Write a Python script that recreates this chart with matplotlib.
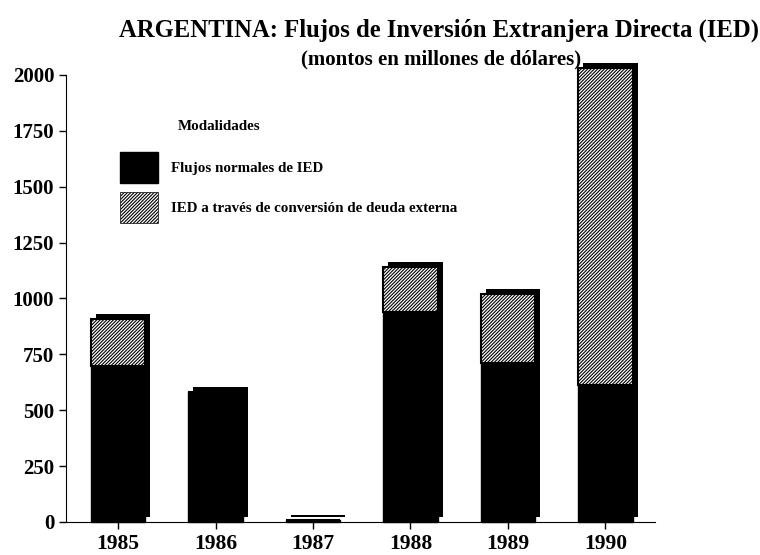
import numpy as np
import matplotlib
matplotlib.use('Agg')
import matplotlib.pyplot as plt
import matplotlib.patheffects as pe
from matplotlib.patches import Patch

# Data (millions of US dollars)
years = ['1985', '1986', '1987', '1988', '1989', '1990']
flujos_normales = [700, 580, 10, 940, 710, 615]
conversion_deuda = [210, 0, 0, 200, 310, 1415]
yticks = [0, 250, 500, 750, 1000, 1250, 1500, 1750, 2000]

plt.rcParams['font.family'] = ['Liberation Serif', 'DejaVu Serif']
plt.rcParams['font.weight'] = 'bold'
plt.rcParams['hatch.linewidth'] = 0.8

fig = plt.figure(figsize=(7.6, 5.55), dpi=100)
ax = fig.add_axes([0.087, 0.0595, 0.775, 0.8055])

x = np.arange(len(years))
width = 0.56
shadow = [pe.SimplePatchShadow(offset=(3.5, 3.5), shadow_rgbFace='black', alpha=1.0), pe.Normal()]

ax.bar(x, flujos_normales, width, color='black', edgecolor='black',
       linewidth=1.0, clip_on=False, path_effects=shadow)
ax.bar(x, conversion_deuda, width, bottom=flujos_normales, color='white',
       edgecolor='black', hatch='//////////', linewidth=1.5, clip_on=False,
       path_effects=shadow)

ax.set_xlim(-0.533, 5.51)
ax.set_ylim(0, 2000)
ax.set_xticks(x)
ax.set_xticklabels(years, fontsize=15.5, fontweight='bold')
ax.set_yticks(yticks)
ax.set_yticklabels([str(v) for v in yticks], fontsize=15, fontweight='bold')
ax.spines['top'].set_visible(False)
ax.spines['right'].set_visible(False)
ax.tick_params(axis='both', direction='out', length=5, width=1)

fig.text(0.578, 0.945, 'ARGENTINA: Flujos de Inversión Extranjera Directa (IED)',
         ha='center', va='center', fontsize=17.7, fontweight='bold')
fig.text(0.58, 0.893, '(montos en millones de dólares)', ha='center',
         va='center', fontsize=15, fontweight='bold')

ax.text(0.19, 0.885, 'Modalidades', transform=ax.transAxes, fontsize=10.8,
        fontweight='bold', va='center')
handles = [Patch(facecolor='black', edgecolor='black', label='Flujos normales de IED'),
           Patch(facecolor='white', edgecolor='black', hatch='//////////',
                 linewidth=0.5, label='IED a través de conversión de deuda externa')]
ax.legend(handles=handles, loc='upper left', bbox_to_anchor=(0.074, 0.851),
          frameon=False, fontsize=10.8, handlelength=2.5, handleheight=2.8,
          labelspacing=0.6, handletextpad=0.9, borderpad=0.2)

fig.savefig('out.png', dpi=100)
